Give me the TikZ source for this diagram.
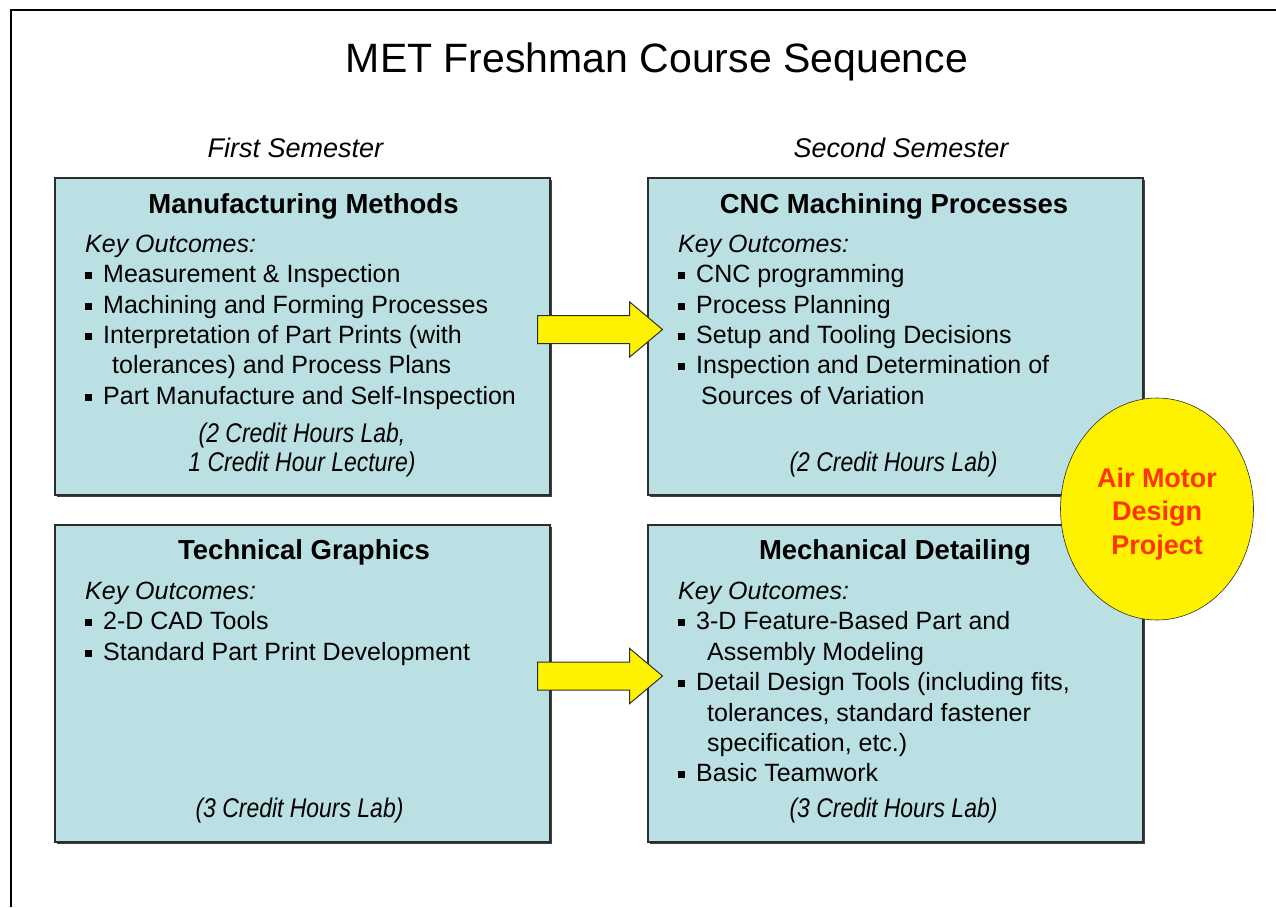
\documentclass[tikz,border=0pt]{standalone}
\usepackage{fontspec}
\setmainfont{Liberation Sans}
\usepackage{graphicx}
\usetikzlibrary{shapes.geometric,shapes.arrows,shadows}

\definecolor{boxfill}{RGB}{187,224,227}
\definecolor{boxline}{RGB}{45,45,45}
\definecolor{projred}{RGB}{255,51,0}

% square bullet followed by the item text
\newcommand\sqbullet{\makebox[18pt][l]{\raisebox{3pt}{\rule{6.5pt}{7pt}}}}
% condensed italic for the credit-hour notes
\newcommand\credit[1]{\scalebox{0.85}[1]{\itshape #1}}

\tikzset{
  course/.style={draw=boxline, line width=1.3pt, fill=boxfill,
    minimum width=495pt, minimum height=317pt, inner sep=0pt,
    drop shadow={shadow xshift=2pt, shadow yshift=-2pt, fill=black!75, opacity=1}},
  ctitle/.style={anchor=base, inner sep=0pt, font=\fontsize{27.5}{32}\selectfont\bfseries},
  bodyline/.style={anchor=base west, inner sep=0pt, font=\fontsize{25}{30}\selectfont},
  keyline/.style={bodyline, font=\fontsize{25}{30}\selectfont\itshape},
  creditline/.style={anchor=base, inner sep=0pt, font=\fontsize{27}{32}\selectfont},
  semester/.style={anchor=base, inner sep=0pt, font=\fontsize{27}{32}\selectfont\itshape},
  blockarrow/.style={single arrow, draw=boxline, line width=1pt, fill=yellow,
    inner sep=0pt, text height=27pt, text depth=0pt,
    minimum height=125pt, single arrow head extend=13.5pt,
    single arrow tip angle=80, single arrow head indent=0pt, anchor=tail},
}

\begin{document}
\begin{tikzpicture}[x=1pt, y=-1pt]
  \useasboundingbox (0,0) rectangle (1276,907);

  % page frame (runs off the right and bottom edges)
  \draw[line width=2pt] (11,907) -- (11,10) -- (1276,10);

  % heading and column labels
  \node[anchor=base, inner sep=0pt, font=\fontsize{41}{48}\selectfont] (title) at (657,73) {MET Freshman Course Sequence};
  \node[semester] (sem1) at (295.5,157) {First Semester};
  \node[semester] (sem2) at (901,157) {Second Semester};

  % course boxes
  \node[course] (mm)  at (302.5,336.5) {};
  \node[course] (cnc) at (895.5,336.5) {};
  \node[course] (tg)  at (302.5,683.5) {};
  \node[course] (md)  at (895.5,683.5) {};

  % Manufacturing Methods
  \node[ctitle] (mmT) at (303.5,213) {Manufacturing Methods};
  \node[keyline] (mmK) at (85,252) {Key Outcomes:};
  \node[bodyline] (mm1) at (85,282) {\sqbullet Measurement \& Inspection};
  \node[bodyline] (mm2) at (85,313) {\sqbullet Machining and Forming Processes};
  \node[bodyline] (mm3) at (85,343) {\sqbullet Interpretation of Part Prints (with};
  \node[bodyline] (mm3b) at (112,373) {tolerances) and Process Plans};
  \node[bodyline] (mm4) at (85,404) {\sqbullet Part Manufacture and Self-Inspection};
  \node[creditline] (mmC1) at (302,442) {\credit{(2 Credit Hours Lab,}};
  \node[creditline] (mmC2) at (302,471) {\credit{1 Credit Hour Lecture)}};

  % CNC Machining Processes
  \node[ctitle] (cncT) at (894,213) {CNC Machining Processes};
  \node[keyline] (cncK) at (678,252) {Key Outcomes:};
  \node[bodyline] (cnc1) at (678,282) {\sqbullet CNC programming};
  \node[bodyline] (cnc2) at (678,313) {\sqbullet Process Planning};
  \node[bodyline] (cnc3) at (678,343) {\sqbullet Setup and Tooling Decisions};
  \node[bodyline] (cnc4) at (678,373) {\sqbullet Inspection and Determination of};
  \node[bodyline] (cnc4b) at (701,404) {Sources of Variation};
  \node[creditline] (cncC) at (893.5,471) {\credit{(2 Credit Hours Lab)}};

  % Technical Graphics
  \node[ctitle] (tgT) at (304,559) {Technical Graphics};
  \node[keyline] (tgK) at (85,599) {Key Outcomes:};
  \node[bodyline] (tg1) at (85,629) {\sqbullet 2-D CAD Tools};
  \node[bodyline] (tg2) at (85,660) {\sqbullet Standard Part Print Development};
  \node[creditline] (tgC) at (299.5,817) {\credit{(3 Credit Hours Lab)}};

  % Mechanical Detailing
  \node[ctitle] (mdT) at (895,559) {Mechanical Detailing};
  \node[keyline] (mdK) at (678,599) {Key Outcomes:};
  \node[bodyline] (md1) at (678,629) {\sqbullet 3-D Feature-Based Part and};
  \node[bodyline] (md1b) at (707,660) {Assembly Modeling};
  \node[bodyline] (md2) at (678,690) {\sqbullet Detail Design Tools (including fits,};
  \node[bodyline] (md2b) at (707,721) {tolerances, standard fastener};
  \node[bodyline] (md2c) at (707,751) {specification, etc.)};
  \node[bodyline] (md3) at (678,781) {\sqbullet Basic Teamwork};
  \node[creditline] (mdC) at (893.5,817) {\credit{(3 Credit Hours Lab)}};

  % first-to-second semester arrows
  \node[blockarrow] (arrTop) at (537,329.5) {};
  \node[blockarrow] (arrBot) at (537,676) {};

  % project ellipse spanning the second-semester courses
  \node[ellipse, draw=boxline, line width=0.6pt, fill=yellow,
        minimum width=193pt, minimum height=222pt, inner sep=0pt] (proj) at (1157,509) {};
  \node[align=center, text=projred, inner sep=0pt,
        font=\fontsize{27}{33.5}\selectfont\bfseries] (projT) at (1157,514)
        {Air Motor\\Design\\Project};
\end{tikzpicture}
\end{document}
